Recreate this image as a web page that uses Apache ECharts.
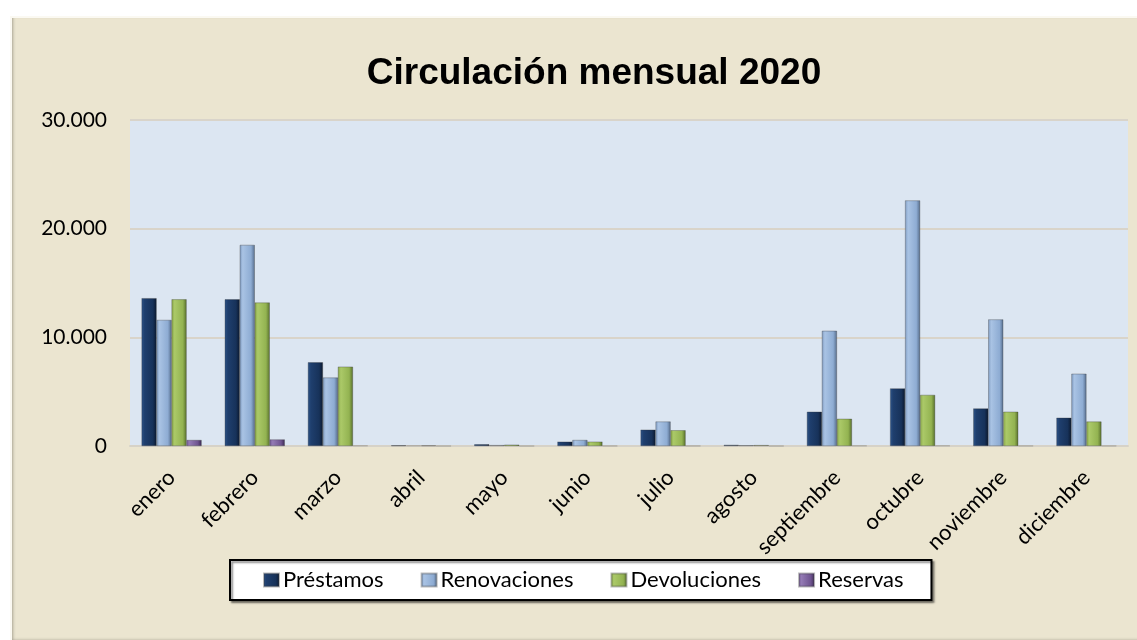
<!DOCTYPE html>
<html>
<head>
<meta charset="utf-8">
<script src="https://cdn.jsdelivr.net/npm/echarts@6/dist/echarts.min.js"></script>
<style>
  body { margin: 0; background: #fff; }
  #frame {
    position: absolute; left: 10px; top: 16px; width: 1127px; height: 624px;
    background: #ebe5d0;
    box-shadow: inset 2px 2px 0 #fbf9f2, inset 3px 0 3px #a9a493;
  }
  #chart { position: absolute; left: 0; top: 0; width: 1137px; height: 640px; }
</style>
</head>
<body>
<div id="frame"></div>
<div id="chart"></div>
<script>
  const months = ["enero", "febrero", "marzo", "abril", "mayo", "junio", "julio", "agosto", "septiembre", "octubre", "noviembre", "diciembre"];
  const prestamos = [13600, 13500, 7700, 60, 150, 400, 1500, 100, 3150, 5300, 3450, 2600];
  const renovaciones = [11600, 18500, 6300, 40, 80, 550, 2250, 70, 10600, 22600, 11650, 6650];
  const devoluciones = [13500, 13200, 7300, 50, 120, 400, 1450, 80, 2500, 4700, 3150, 2250];
  const reservas = [550, 600, 40, 0, 0, 10, 10, 0, 30, 30, 20, 20];
  const yTicks = [0, 10000, 20000, 30000];

  const font = "Lato";

  // bevel look: horizontal gradient per bar
  function bevel(c0, c1, c2, c3) {
    return {
      type: "linear", x: 0, y: 0, x2: 1, y2: 0,
      colorStops: [
        { offset: 0, color: c0 },
        { offset: 0.2, color: c1 },
        { offset: 0.75, color: c2 },
        { offset: 1, color: c3 },
      ],
    };
  }

  const styles = [
    bevel("#2d5489", "#1f3f6e", "#17325a", "#0b182e"),
    bevel("#7f9bc1", "#a9c3e4", "#8eacd3", "#566d8c"),
    bevel("#87a548", "#abc968", "#93b351", "#58702d"),
    bevel("#7a5e9c", "#937ab4", "#6f5490", "#3b2a52"),
  ];
  const names = ["Préstamos", "Renovaciones", "Devoluciones", "Reservas"];
  const values = [prestamos, renovaciones, devoluciones, reservas];

  const fmt = (v) => v.toString().replace(/\B(?=(\d{3})+(?!\d))/g, ".");

  var myChart = echarts.init(document.getElementById("chart"));
  var option = {
    backgroundColor: "transparent",
    title: {
      text: "Circulación mensual 2020",
      left: 589,
      textAlign: "center",
      top: 50,
      textStyle: { fontFamily: "Liberation Sans", fontWeight: "bold", fontSize: 37, color: "#000" },
    },
    legend: {
      data: names,
      icon: "rect",
      left: 230,
      top: 560,
      backgroundColor: "#fff",
      borderColor: "#000",
      borderWidth: 2,
      padding: [9, 28, 9, 33],
      itemGap: 37,
      itemWidth: 15,
      itemHeight: 13,
      shadowColor: "rgba(0,0,0,0.45)",
      shadowOffsetX: 2,
      shadowOffsetY: 2,
      shadowBlur: 2,
      textStyle: { fontFamily: font, fontSize: 22, color: "#000", padding: [0, 0, 0, -1] },
    },
    grid: {
      left: 130, right: 9, top: 120, bottom: 194,
      show: true, backgroundColor: "#dce6f2", borderWidth: 0,
    },
    xAxis: {
      type: "category",
      data: months,
      axisTick: { show: false },
      axisLine: { lineStyle: { color: "#d6d2c8", width: 2 } },
      axisLabel: { rotate: 45, fontFamily: font, fontSize: 22, color: "#000", margin: 28, interval: 0 },
    },
    yAxis: {
      type: "value",
      min: yTicks[0],
      max: yTicks[yTicks.length - 1],
      interval: yTicks[1] - yTicks[0],
      axisLine: { show: false },
      axisTick: { show: false },
      splitLine: { lineStyle: { color: "#d9d4ca", width: 2 } },
      axisLabel: { fontFamily: font, fontSize: 21, color: "#000", margin: 23, formatter: fmt },
    },
    series: names.map((n, i) => ({
      name: n,
      type: "bar",
      data: values[i],
      barWidth: 15,
      barGap: "0%",
      itemStyle: { color: styles[i], borderColor: "rgba(60,60,60,0.35)", borderWidth: 0.5 },
    })),
  };
  option && myChart.setOption(option);
</script>
</body>
</html>
